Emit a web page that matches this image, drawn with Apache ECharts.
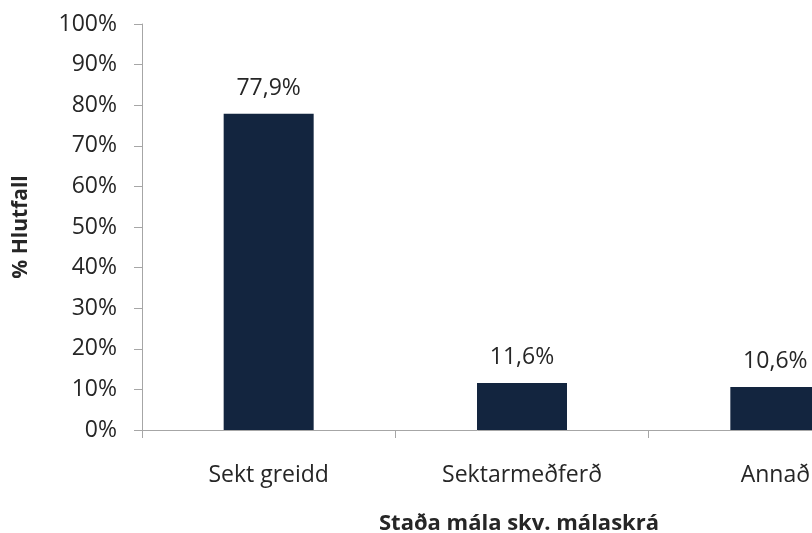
<!DOCTYPE html>
<html>
<head>
<meta charset="utf-8">
<script src="https://cdn.jsdelivr.net/npm/echarts@6/dist/echarts.min.js"></script>
<style>
  html, body { margin: 0; padding: 0; background: #fff; }
  #main { width: 812px; height: 533px; }
</style>
</head>
<body>
<div id="main"></div>
<script>
var categories = ['Sekt greidd', 'Sektarmeðferð', 'Annað'];
var values = [77.9, 11.6, 10.6];
var yTicks = [0, 10, 20, 30, 40, 50, 60, 70, 80, 90, 100];

var font = '"Open Sans", "DejaVu Sans", sans-serif';
var textColor = '#262626';
var axisColor = '#a6a6a6';

var chart = echarts.init(document.getElementById('main'));

var option = {
  animation: false,
  textStyle: { fontFamily: font },
  grid: {
    left: 142,
    top: 24,
    width: 760,
    height: 406,
    // the original picture is cropped on the right, so let the grid run past the canvas
    outerBoundsMode: 'none'
  },
  xAxis: {
    type: 'category',
    data: categories,
    name: 'Staða mála skv. málaskrá',
    nameLocation: 'middle',
    nameGap: 83,
    nameTextStyle: {
      fontFamily: font,
      fontSize: 22,
      fontWeight: 'bold',
      color: textColor,
      padding: [0, 6, 0, 0]
    },
    axisLine: { lineStyle: { color: axisColor, width: 1 } },
    axisTick: { show: true, length: 8, lineStyle: { color: axisColor } },
    axisLabel: {
      fontFamily: font,
      fontSize: 23,
      color: textColor,
      margin: 34
    }
  },
  yAxis: {
    type: 'value',
    min: yTicks[0],
    max: yTicks[yTicks.length - 1],
    interval: 10,
    name: '% Hlutfall',
    nameLocation: 'middle',
    nameGap: 110,
    nameTextStyle: {
      fontFamily: font,
      fontSize: 21,
      fontWeight: 'bold',
      color: textColor
    },
    axisLine: { show: true, lineStyle: { color: axisColor, width: 1 } },
    axisTick: { show: true, length: 8, lineStyle: { color: axisColor } },
    splitLine: { show: false },
    axisLabel: {
      fontFamily: font,
      fontSize: 23,
      color: textColor,
      margin: 25,
      formatter: '{value}%'
    }
  },
  series: [{
    type: 'bar',
    data: values,
    barWidth: 90,
    itemStyle: { color: '#13253f' },
    label: {
      show: true,
      position: 'top',
      distance: 14,
      fontFamily: font,
      fontSize: 23,
      color: textColor,
      formatter: function (p) {
        return p.value.toFixed(1).replace('.', ',') + '%';
      }
    }
  }]
};

chart.setOption(option);
</script>
</body>
</html>
